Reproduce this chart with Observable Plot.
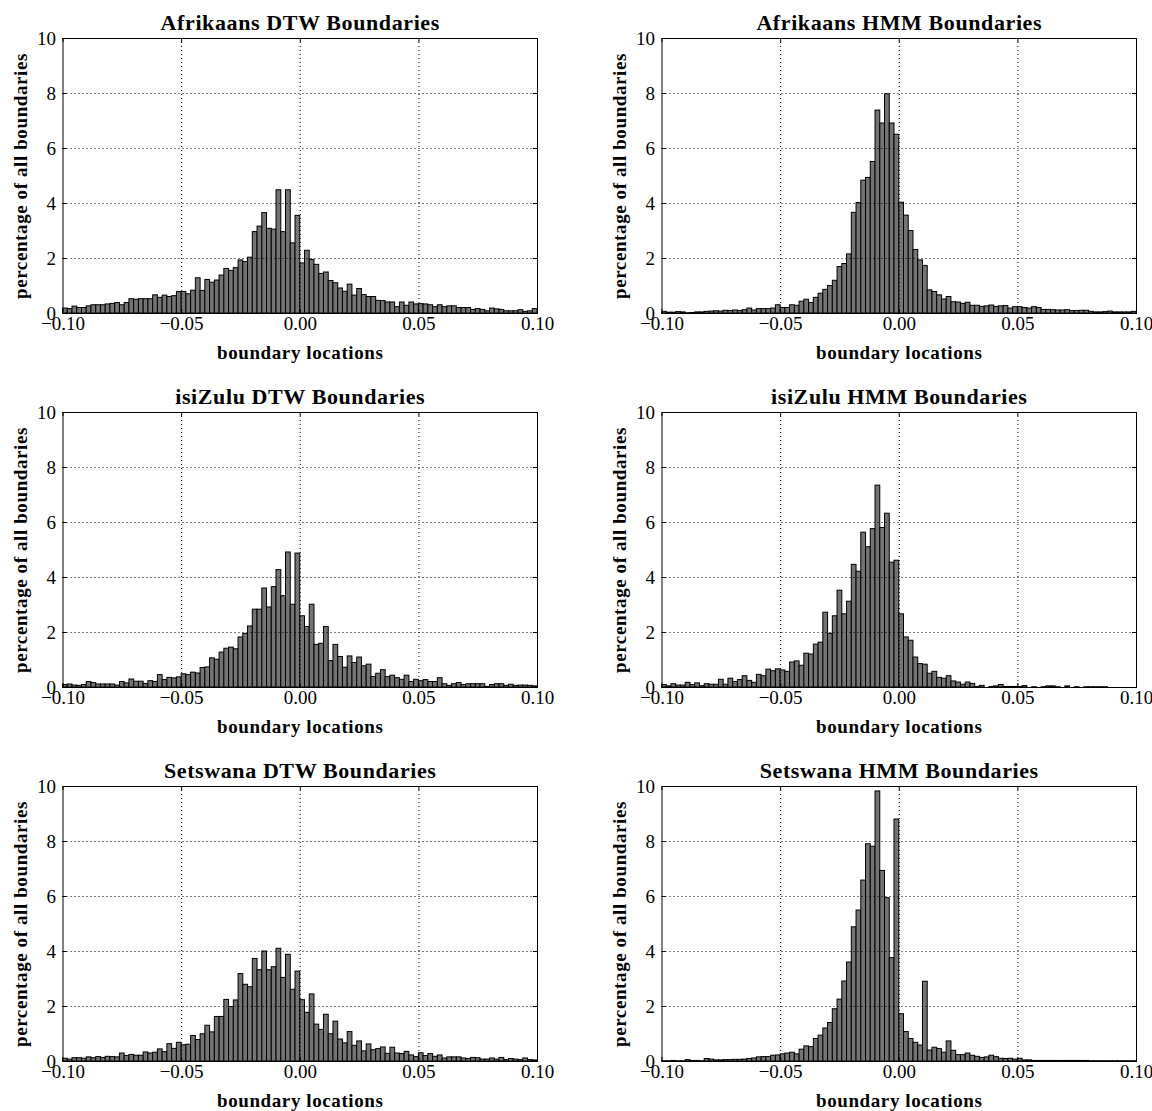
<!DOCTYPE html>
<html><head><meta charset="utf-8">
<script src="https://cdn.jsdelivr.net/npm/d3@7"></script>
<script src="https://cdn.jsdelivr.net/npm/@observablehq/plot@0.6"></script>
<style>
body{margin:0;background:#fff;width:1152px;height:1111px;overflow:hidden;position:relative}
.panel{position:absolute;width:576px;height:363px}
.panel svg{max-width:none !important;overflow:visible}
.panel g[aria-label="text"] text{letter-spacing:0.6px}
</style></head><body>
<script>
const binStart = -0.1, binWidth = 0.002;
const xTicks = [-0.1, -0.05, 0, 0.05, 0.1];
const yTicks = [0, 2, 4, 6, 8, 10];
const xLabel = "boundary locations";
const yLabel = "percentage of all boundaries";
const titles = ["Afrikaans DTW Boundaries", "Afrikaans HMM Boundaries", "isiZulu DTW Boundaries", "isiZulu HMM Boundaries", "Setswana DTW Boundaries", "Setswana HMM Boundaries"];

const afDTW = [0.18,0.16,0.25,0.2,0.2,0.26,0.3,0.3,0.3,0.33,0.35,0.38,0.3,0.38,0.52,0.5,0.52,0.52,0.52,0.66,0.57,0.65,0.6,0.63,0.78,0.78,0.7,0.83,1.28,0.82,1.22,1.12,1.2,1.38,1.62,1.55,1.65,1.93,1.87,2.03,2.96,3.16,3.65,3.08,3.05,4.48,2.96,4.48,2.55,3.55,
1.82,2.28,1.95,1.77,1.44,1.49,1.18,1.1,0.91,0.79,1.05,0.65,0.89,0.67,0.6,0.6,0.46,0.45,0.4,0.4,0.23,0.4,0.28,0.4,0.33,0.34,0.33,0.3,0.23,0.3,0.23,0.26,0.26,0.2,0.2,0.2,0.13,0.16,0.13,0.08,0.18,0.15,0.13,0.08,0.08,0.08,0.12,0.06,0.08,0.16];
const afHMM = [0.06,0.03,0.03,0.05,0.04,0.01,0.02,0.04,0.04,0.06,0.07,0.08,0.07,0.1,0.09,0.11,0.09,0.12,0.18,0.11,0.16,0.16,0.16,0.18,
0.3,0.2,0.2,0.3,0.28,0.43,0.5,0.38,0.57,0.72,0.86,1.0,1.19,1.69,1.8,2.15,3.66,4.02,4.83,4.93,5.51,7.38,6.91,7.97,6.91,6.5,
4.03,3.56,3.0,2.31,1.93,1.73,0.84,0.78,0.66,0.51,0.6,0.41,0.4,0.35,0.39,0.28,0.28,0.24,0.26,0.29,0.24,0.26,0.27,0.18,0.23,0.23,0.2,0.18,0.23,0.2,0.13,0.13,0.12,0.11,0.11,0.12,0.09,0.09,0.1,0.1,0.06,0.04,0.04,0.05,0.07,0.04,0.04,0.04,0.04,0.06];
const zuDTW = [0.09,0.11,0.07,0.06,0.09,0.2,0.16,0.11,0.11,0.11,0.11,0.07,0.2,0.15,0.29,0.21,0.21,0.13,0.23,0.2,0.45,0.27,0.35,0.33,0.37,0.48,0.45,0.54,0.51,0.71,0.73,1.06,1.01,1.27,1.41,1.45,1.39,1.82,1.95,2.22,2.83,2.83,3.6,2.91,3.65,4.27,3.32,4.91,3.01,4.87,
2.59,2.2,3.01,1.55,1.59,2.2,0.96,1.55,1.11,0.72,1.13,0.89,1.09,0.77,0.83,0.38,0.5,0.63,0.38,0.43,0.34,0.28,0.43,0.2,0.28,0.23,0.27,0.2,0.2,0.34,0.12,0.06,0.12,0.16,0.09,0.12,0.12,0.12,0.12,0.02,0.09,0.12,0.12,0.06,0.1,0.06,0.07,0.07,0.06,0.04];
const zuHMM = [0.09,0.04,0.12,0.07,0.07,0.17,0.09,0.15,0.05,0.12,0.1,0.1,0.28,0.1,0.32,0.2,0.27,0.41,0.24,0.17,0.46,0.41,0.65,0.59,0.66,0.62,0.57,0.91,0.95,0.79,1.23,1.2,1.56,1.63,2.72,1.95,2.59,3.52,2.66,3.12,4.46,4.21,5.63,5.1,5.76,7.34,5.8,6.32,4.54,4.61,
2.66,1.82,1.7,1.09,0.85,0.83,0.5,0.57,0.35,0.32,0.41,0.22,0.18,0.1,0.18,0.13,0.02,0.06,0,0.02,0.04,0.09,0.02,0.02,0.02,0.02,0.05,0,0.01,0,0.01,0.04,0.04,0.01,0,0.04,0,0.01,0,0.01,0.01,0.01,0.01,0.01,0,0,0,0,0,0];
const tnDTW = [0.1,0.07,0.12,0.12,0.1,0.15,0.12,0.16,0.13,0.17,0.16,0.15,0.29,0.2,0.24,0.21,0.21,0.33,0.29,0.32,0.44,0.34,0.63,0.46,0.68,0.59,0.61,0.93,0.78,0.99,1.3,1.06,1.62,1.62,2.24,1.98,2.22,3.18,2.79,2.7,3.73,3.32,4.0,3.32,3.43,4.1,3.04,3.88,2.61,3.27,
2.23,1.77,2.44,1.34,1.15,1.7,0.99,1.45,0.8,0.66,1.07,0.57,0.73,0.37,0.62,0.41,0.45,0.51,0.28,0.5,0.29,0.27,0.35,0.22,0.16,0.3,0.2,0.27,0.17,0.22,0.11,0.15,0.15,0.15,0.11,0.09,0.13,0.12,0.07,0.07,0.11,0.07,0.13,0.05,0.09,0.07,0.05,0.11,0.05,0.04];
const tnHMM = [0.01,0.01,0.02,0.01,0.01,0.05,0.02,0.02,0.01,0.09,0.07,0.04,0.04,0.05,0.05,0.06,0.06,0.07,0.09,0.11,0.15,0.16,0.16,0.21,0.22,0.26,0.29,0.32,0.26,0.43,0.55,0.52,0.82,0.94,1.2,1.4,1.9,2.25,2.91,3.6,4.88,5.49,6.58,7.9,7.81,9.82,6.93,5.94,3.76,8.8,
1.72,1.07,0.82,0.68,0.58,2.9,0.4,0.5,0.45,0.32,0.73,0.39,0.23,0.23,0.29,0.21,0.17,0.13,0.15,0.21,0.16,0.1,0.09,0.1,0.07,0.1,0.04,0.04,0.02,0.02,0.02,0.02,0.02,0.02,0.02,0.02,0.02,0.02,0.02,0.02,0.01,0.01,0.01,0.01,0.01,0.01,0.01,0.01,0.01,0.01];

const series = [afDTW, afHMM, zuDTW, zuHMM, tnDTW, tnHMM];
const lefts = [0, 599];
const tops = [0, 374, 748];

const W = 576, H = 363, mL = 62.5, mR = W - 537, mT = 38, mB = 50;
const frameH = H - mT - mB;
const frameW = W - mL - mR;
const serif = "'Liberation Serif', 'Times New Roman', serif";

function panel(values, title) {
  const data = values.map((v, i) => ({x1: binStart + i * binWidth, x2: binStart + (i + 1) * binWidth, v}));
  return Plot.plot({
    width: W, height: H,
    marginLeft: mL, marginRight: mR, marginTop: mT, marginBottom: mB,
    style: {fontFamily: serif, fontSize: "19px", background: "transparent", color: "black", maxWidth: "none", overflow: "visible"},
    x: {domain: [-0.1, 0.1]},
    y: {domain: [0, 10]},
    marks: [
      Plot.rect(data, {x1: "x1", x2: "x2", y1: 0, y2: "v", fill: "#747474", stroke: "black", strokeWidth: 1}),
      Plot.gridX([-0.05, 0, 0.05], {stroke: "black", strokeOpacity: 1, strokeWidth: 1, strokeDasharray: "1,3"}),
      Plot.gridY([2, 4, 6, 8], {stroke: "black", strokeOpacity: 1, strokeWidth: 1, strokeDasharray: "1,3"}),
      Plot.tickX(xTicks, {x: d => d, insetTop: frameH - 4, stroke: "black"}),
      Plot.tickX(xTicks, {x: d => d, insetBottom: frameH - 4, stroke: "black"}),
      Plot.tickY(yTicks, {y: d => d, insetRight: frameW - 4, stroke: "black"}),
      Plot.tickY(yTicks, {y: d => d, insetLeft: frameW - 4, stroke: "black"}),
      Plot.axisX(xTicks, {tickSize: 0, tickPadding: 3, tickFormat: d3.format(".2f"), label: null, fontSize: 19}),
      Plot.axisY(yTicks, {tickSize: 0, tickPadding: 7, tickFormat: d3.format("d"), label: null, fontSize: 19}),
      Plot.frame({stroke: "black", strokeWidth: 1}),
      Plot.text([title], {frameAnchor: "top", lineAnchor: "middle", dy: -16, fontWeight: "bold", fontSize: 22, fill: "black"}),
      Plot.text([xLabel], {frameAnchor: "bottom", lineAnchor: "middle", dy: 39, fontWeight: "bold", fontSize: 19, fill: "black"}),
      Plot.text([yLabel], {frameAnchor: "left", textAnchor: "middle", lineAnchor: "middle", dx: -42, rotate: -90, fontWeight: "bold", fontSize: 19, fill: "black"})
    ]
  });
}

series.forEach((vals, k) => {
  const div = document.createElement("div");
  div.className = "panel";
  div.style.left = lefts[k % 2] + "px";
  div.style.top = tops[Math.floor(k / 2)] + "px";
  div.appendChild(panel(vals, titles[k]));
  document.body.appendChild(div);
});
</script>
</body></html>
